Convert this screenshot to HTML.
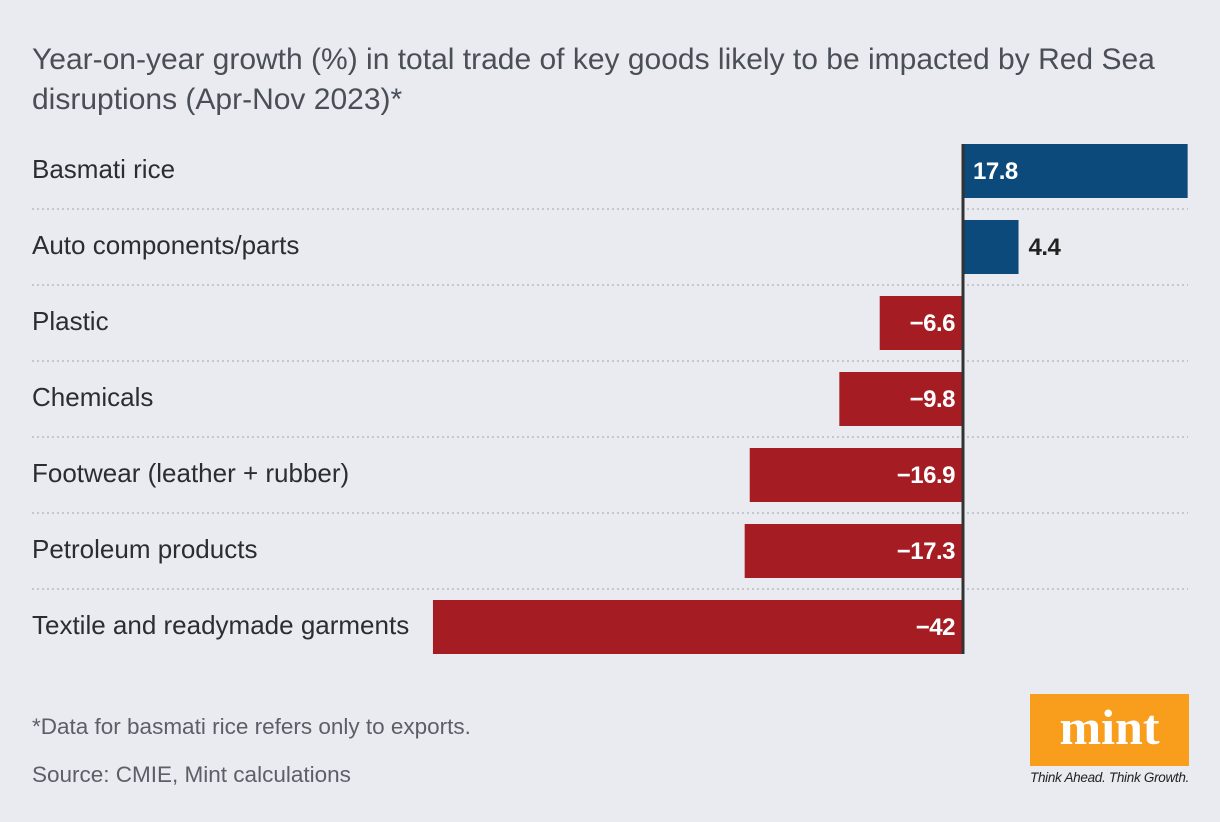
<!DOCTYPE html>
<html><head><meta charset="utf-8"><style>
body{margin:0;width:1220px;height:822px;background:#e9ebf0;font-family:"Liberation Sans",sans-serif;overflow:hidden;position:relative}
.t{position:absolute;left:32px;top:40px;font-size:30px;line-height:40px;color:#4a4f57;width:1180px}
.f{position:absolute;left:32px;font-size:22.5px;color:#5b6068}
</style></head><body>
<div class="t">Year-on-year growth (%) in total trade of key goods likely to be impacted by Red Sea disruptions (Apr-Nov 2023)*</div>
<svg id="c" width="1220" height="822" style="position:absolute;left:0;top:0"></svg>
<div class="f" style="top:714px">*Data for basmati rice refers only to exports.</div>
<div class="f" style="top:762px">Source: CMIE, Mint calculations</div>
<div style="position:absolute;left:1030px;top:694px;width:159px;height:72px;background:#f99d1c">
<div style="text-align:center;color:#fff;font-family:'Liberation Serif',serif;font-weight:bold;font-size:50px;line-height:66px">mint</div></div>
<div style="position:absolute;left:1030px;top:770px;font-size:13.5px;font-style:italic;color:#222;letter-spacing:-0.3px">Think Ahead. Think Growth.</div>
<script>
const categories=["Basmati rice","Auto components/parts","Plastic","Chemicals","Footwear (leather + rubber)","Petroleum products","Textile and readymade garments"];
const values=[17.8,4.4,-6.6,-9.8,-16.9,-17.3,-42];
const labels=["17.8","4.4","−6.6","−9.8","−16.9","−17.3","−42"];
const svg=document.getElementById('c');const NS='http://www.w3.org/2000/svg';
const x0=963,k=12.62,top0=144,pitch=76,bh=54;
const x=v=>x0+v*k;
function mk(t,a){const e=document.createElementNS(NS,t);for(const p in a)e.setAttribute(p,a[p]);svg.appendChild(e);return e;}
categories.forEach((c,i)=>{
 const y=top0+i*pitch;
 if(i>0){const l=mk('line',{x1:32,x2:1188,y1:y-11,y2:y-11,stroke:'#c4c7cc','stroke-width':2,'stroke-dasharray':'2 3'});
 
 }
 const tl=mk('text',{x:32,y:y+bh/2+7,'font-size':26,fill:'#2a2d33'});tl.textContent=c;
 
 
 const v=values[i];const a=Math.min(x(v),x0),b=Math.max(x(v),x0);
 const r=mk('rect',{x:a,y:y,width:b-a,height:bh,fill:v>=0?'#0b4a7a':'#a51c22'});
 
 
 let tx,anchor,fill;
 if(v>=0){ if(b-a>80){tx=x0+10;anchor='start';fill='#fff';}else{tx=b+10;anchor='start';fill='#222';} }
 else{tx=x0-8;anchor='end';fill='#fff';}
 const vl=mk('text',{x:tx,y:y+bh/2+8,'font-size':24,'font-weight':'bold',fill:fill,'text-anchor':anchor,'letter-spacing':'-0.5'});vl.textContent=labels[i];
 
 
});
const ax=mk('line',{x1:x0,x2:x0,y1:top0,y2:top0+6*pitch+bh,stroke:'#333',"stroke-width":3});


</script>
</body></html>
